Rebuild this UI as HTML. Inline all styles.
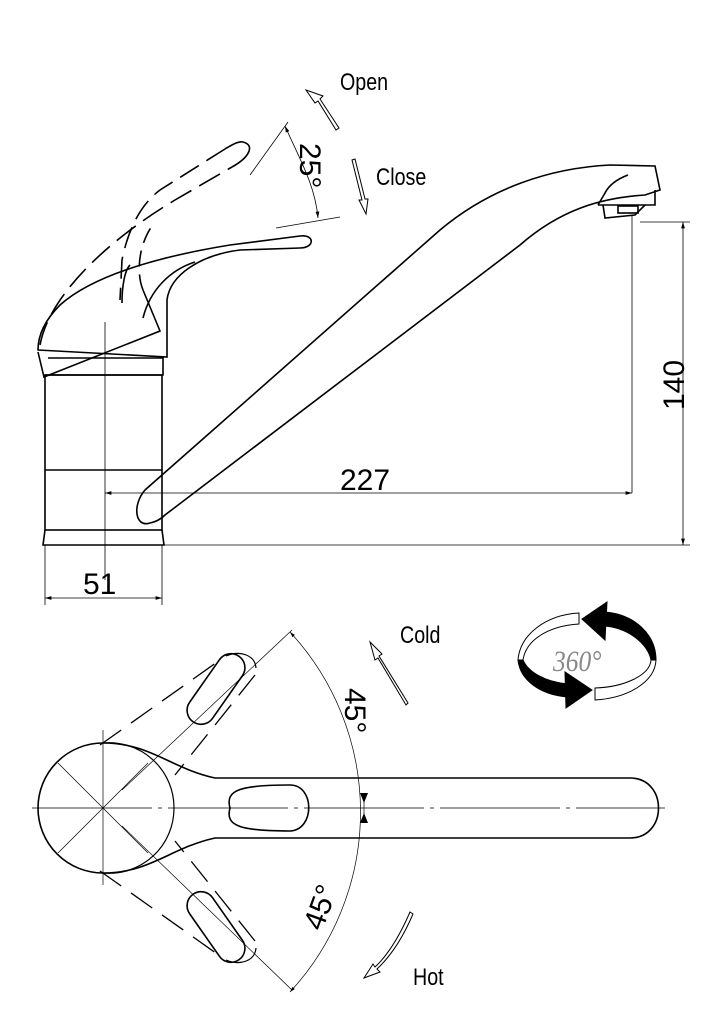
<!DOCTYPE html>
<html><head><meta charset="utf-8"><style>
html,body{margin:0;padding:0;background:#fff;}
svg{display:block;}
text{font-family:"Liberation Sans",sans-serif;fill:#000;}
</style></head><body>
<svg width="724" height="1024" viewBox="0 0 724 1024" xmlns="http://www.w3.org/2000/svg">
<defs>
<marker id="ar" viewBox="0 0 10 10" refX="10" refY="5" markerWidth="8" markerHeight="8" orient="auto-start-reverse"><path d="M0,2 L10,5 L0,8 z" fill="#000"/></marker>
</defs>
<g fill="none" stroke="#000" stroke-width="1.6">
<!-- body -->
<rect x="45" y="375" width="117" height="155"/>
<line x1="45" y1="470" x2="162" y2="470"/>
<path d="M45,530 L43,545 L164,545 L162,530"/>
<!-- cap -->
<path d="M48,358 L163,358 L163,375 L45,375"/>
<path d="M38,350 L167,357 L167,300 C170,275 200,255 240,250 L300,248 C315,248 315,234 300,236 L230,245 C150,258 90,278 60,305 C45,320 38,335 38,350 Z"/>
<path d="M38,352 L44,377 L160,331 L143,290"/>
<path d="M143,318 C150,290 170,270 195,262"/>
<path d="M122,303 C122,285 125,270 130,265" />
<!-- dashed lever -->
<path d="M40,345 C48,300 100,245 175,200 L232,167" stroke-dasharray="24,9"/>
<path d="M232,167 C250,157 255,145 243,142 C238,141 232,145 225,149"/>
<path d="M225,149 L160,190 C140,205 128,230 122,260 L120,300" stroke-dasharray="22,9"/>
<path d="M143,290 C135,270 140,240 155,222" stroke-dasharray="16,8"/>
<!-- spout -->
<path d="M150,523 C135,528 132,505 145,490 L440,230 C490,188 550,168 610,165 L655,166 L660,190 L645,195 C600,198 560,210 520,245 L165,515 C160,520 155,522 150,523 Z"/>
<path d="M598,205 L605,193 C610,183 620,178 628,175"/>
<path d="M598,205 L655,205 L655,190"/>
<path d="M603,205 L605,218 L635,215 L645,205"/>
<rect x="618" y="206" width="20" height="7"/>
</g>
<g fill="none" stroke="#000" stroke-width="0.8">
<line x1="105" y1="322" x2="105" y2="580"/>
<line x1="105" y1="493" x2="632" y2="493" marker-start="url(#ar)" marker-end="url(#ar)"/>
<line x1="632" y1="215" x2="632" y2="493"/>
<line x1="640" y1="222" x2="690" y2="222"/>
<line x1="683" y1="222" x2="683" y2="545" marker-start="url(#ar)" marker-end="url(#ar)"/>
<line x1="162" y1="545" x2="690" y2="545"/>
<line x1="45" y1="545" x2="45" y2="605"/>
<line x1="162" y1="545" x2="162" y2="605"/>
<line x1="45" y1="598" x2="162" y2="598" marker-start="url(#ar)" marker-end="url(#ar)"/>
<line x1="250" y1="175" x2="288" y2="122"/>
<line x1="276" y1="228" x2="340" y2="217"/>
<path d="M285,126 C300,160 315,185 318,218" marker-start="url(#ar)" marker-end="url(#ar)"/>
</g>
<!-- open/close hollow arrows -->
<g fill="#fff" stroke="#000" stroke-width="1">
<path d="M336,130 L318,101 L315,103 L306,90 L323,96 L320,99 L339,128 Z"/>
<path d="M352,160 L362,200 L359,200 L366,214 L368,199 L365,199 L355,159 Z"/>
</g>
<text x="0" y="0" font-size="24" transform="translate(340,90) scale(0.82,1)">Open</text>
<text x="0" y="0" font-size="24" transform="translate(376,185) scale(0.82,1)">Close</text>
<text x="0" y="0" font-size="30" transform="translate(300,143) rotate(90)">25°</text>
<text x="340" y="490" font-size="30">227</text>
<text x="0" y="0" font-size="30" transform="translate(684,410) rotate(-90)">140</text>
<text x="83" y="594" font-size="30">51</text>

<!-- top view -->
<g fill="none" stroke="#000" stroke-width="1.6">
<path d="M103,743 C150,743 170,768 215,778 L630,778 C668,778 668,838 630,838 L215,838 C170,848 150,873 103,873 A65,65 0 0 1 103,743 Z"/>
<path d="M103,743 A65,65 0 0 1 174,808 A65,65 0 0 1 103,873" stroke-width="1.2"/>
<path d="M230,808 C225,790 240,785 290,785 C315,785 315,830 290,831 C240,831 225,826 230,808 Z"/>
<rect x="-40" y="-14" width="80" height="28" rx="14" transform="translate(216,689) rotate(-55)"/>
<rect x="-40" y="-14" width="80" height="28" rx="14" transform="translate(216,927) rotate(55)"/>
<path d="M226,656 C240,650 255,655 256,668" stroke-width="1.2"/>
<path d="M226,960 C240,966 255,961 256,948" stroke-width="1.2"/>
<g stroke-dasharray="26,12" stroke-width="1.3">
<path d="M100,745 L220,660"/>
<path d="M255,675 L175,775"/>
<path d="M100,871 L220,956"/>
<path d="M255,941 L175,841"/>
</g>
</g>
<g fill="none" stroke="#000" stroke-width="0.7">
<line x1="32" y1="808" x2="665" y2="808" stroke-dasharray="120,6,4,6"/>
<line x1="103" y1="730" x2="103" y2="885"/>
<line x1="58" y1="763" x2="148" y2="853"/>
<line x1="58" y1="853" x2="148" y2="763"/>
<line x1="122" y1="790" x2="292" y2="630"/>
<line x1="122" y1="826" x2="292" y2="990"/>
<path d="M290,632 A265,265 0 0 1 290,992" marker-start="url(#ar)" marker-end="url(#ar)"/>
<line x1="364" y1="795" x2="364" y2="822"/>
</g>
<path d="M360,793 L368,793 L364,803 Z M360,823 L368,823 L364,813 Z" fill="#000"/>
<g fill="#fff" stroke="#000" stroke-width="1">
<path d="M408,703 L379,656 L382,654 L370,642 L375,660 L378,658 L406,705 Z"/>
<path d="M410,912 C400,935 388,955 375,967 L373,964 L364,978 L380,972 L377,969 C392,955 404,935 413,914 Z"/>
</g>
<text x="0" y="0" font-size="24" transform="translate(400,643) scale(0.82,1)">Cold</text>
<text x="0" y="0" font-size="24" transform="translate(413,985) scale(0.82,1)">Hot</text>
<text x="0" y="0" font-size="30" transform="translate(345,688) rotate(90)">45°</text>
<text x="0" y="0" font-size="30" transform="translate(322,932) rotate(-70)">45°</text>
<!-- 360 icon -->
<g stroke="#000" stroke-width="1">
<!-- hollow top-left band -->
<path d="M579,613 C545,615 520,635 518,660 L523,660 C526,640 548,626 579,624 Z" fill="#fff"/>
<!-- hollow bottom-right band -->
<path d="M595,688 C625,687 650,675 651,660 L656,660 C655,682 628,698 595,700 Z" fill="#fff"/>
<!-- black top-right band -->
<path d="M604,612 C635,614 656,635 656,660 L651,660 C648,645 630,628 604,626 Z" fill="#000"/>
<path d="M582,619 L607,602 L605,640 Z" fill="#000"/>
<!-- black bottom-left band -->
<path d="M518,660 C520,680 540,695 568,697 L568,684 C545,682 528,672 523,660 Z" fill="#000"/>
<path d="M592,690 L565,672 L566,708 Z" fill="#000"/>
</g>
<text x="0" y="0" font-size="30" font-style="italic" style="fill:#888;font-family:'Liberation Serif',serif" transform="translate(553,671) scale(0.85,1)">360°</text>
</svg>
</body></html>
